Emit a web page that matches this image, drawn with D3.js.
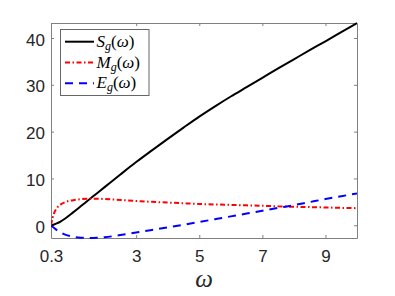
<!DOCTYPE html>
<html>
<head>
<meta charset="utf-8">
<script src="https://cdn.jsdelivr.net/npm/d3@7"></script>
<style>
  body { margin: 0; background: #fff; }
  .axis text { font-family: "Liberation Sans", Arial, sans-serif; font-size: 17px; fill: #262626; }
  .axis path, .axis line { stroke: #808080; }
</style>
</head>
<body>
<div id="chart"></div>
<script>
// frequency grid and the three curves
const omega = [0.3, 0.35, 0.4, 0.5, 0.6, 0.75, 1, 1.25, 1.5, 1.75, 2, 2.5, 3, 3.5, 4, 4.5, 5, 5.5, 6, 6.5, 7, 7.5, 8, 8.5, 9, 9.5, 10];
const sValues = [0, 0.07, 0.17, 0.45, 0.8, 1.45, 2.75, 4.1, 5.45, 6.8, 8.15, 10.85, 13.5, 16.0, 18.45, 20.85, 23.2, 25.4, 27.5, 29.5, 31.5, 33.5, 35.45, 37.4, 39.3, 41.25, 43.2];
const mValues = [0, 1.6, 2.6, 3.8, 4.4, 4.95, 5.35, 5.58, 5.68, 5.68, 5.6, 5.4, 5.2, 5.0, 4.85, 4.7, 4.55, 4.45, 4.35, 4.25, 4.15, 4.05, 3.95, 3.88, 3.8, 3.72, 3.65];
const eValues = [0, -0.3, -0.6, -1.1, -1.5, -2.0, -2.45, -2.65, -2.72, -2.68, -2.55, -2.1, -1.55, -1.0, -0.45, 0.12, 0.7, 1.3, 1.9, 2.5, 3.1, 3.7, 4.3, 4.95, 5.6, 6.2, 6.8];
const xTicks = [0.3, 3, 5, 7, 9];
const yTicks = [0, 10, 20, 30, 40];

const series = [
    {name: "S", values: sValues, color: "#000000", dash: null},
    {name: "M", values: mValues, color: "#ff0000", dash: "5,2.5,1.5,2.5"},
    {name: "E", values: eValues, color: "#0000ff", dash: "8,6"}
];

const width = 395, height = 296;
const margin = {top: 23, right: 38, bottom: 58, left: 51};

const svg = d3.select("#chart").append("svg")
    .attr("width", width)
    .attr("height", height);

const x = d3.scaleLinear()
    .domain([0.3, 10])
    .range([margin.left, width - margin.right]);

let allValues = sValues.concat(mValues, eValues);
const y = d3.scaleLinear()
    .domain(d3.extent(allValues))
    .range([height - margin.bottom, margin.top]);

// axes (ticks point inwards, mirrored on top/right like a boxed plot)
svg.append("g")
    .attr("class", "axis")
    .attr("transform", `translate(0, ${height - margin.bottom})`)
    .call(d3.axisBottom(x).tickValues(xTicks).tickFormat(d3.format("")).tickSizeInner(-3).tickSizeOuter(0).tickPadding(12));

svg.append("g")
    .attr("class", "axis")
    .attr("transform", `translate(${margin.left}, 0)`)
    .call(d3.axisLeft(y).tickValues(yTicks).tickSizeInner(-3).tickSizeOuter(0).tickPadding(6))
    .selectAll("text").attr("dy", "0.42em");

svg.append("g")
    .attr("class", "axis")
    .attr("transform", `translate(0, ${margin.top})`)
    .call(d3.axisTop(x).tickValues(xTicks).tickFormat("").tickSizeInner(-3).tickSizeOuter(0));

svg.append("g")
    .attr("class", "axis")
    .attr("transform", `translate(${width - margin.right}, 0)`)
    .call(d3.axisRight(y).tickValues(yTicks).tickFormat("").tickSizeInner(-3).tickSizeOuter(0));

// curves
let line = d3.line()
    .x((d, i) => x(omega[i]))
    .y(d => y(d))
    .curve(d3.curveMonotoneX);

svg.append("defs").append("clipPath").attr("id", "plotclip")
    .append("rect")
    .attr("x", margin.left).attr("y", margin.top - 2)
    .attr("width", width - margin.left - margin.right)
    .attr("height", height - margin.top - margin.bottom + 4);

svg.selectAll(".curve")
    .data(series)
    .enter().append("path")
    .attr("class", "curve")
    .attr("clip-path", "url(#plotclip)")
    .attr("fill", "none")
    .attr("stroke", d => d.color)
    .attr("stroke-width", 2)
    .attr("stroke-dasharray", d => d.dash)
    .attr("d", d => line(d.values));

// x label
svg.append("text")
    .attr("x", (margin.left + width - margin.right) / 2)
    .attr("y", 287)
    .attr("text-anchor", "middle")
    .attr("font-family", "Liberation Serif, serif")
    .attr("font-style", "italic")
    .attr("font-size", 25)
    .attr("fill", "#262626")
    .text("ω");

// legend
let legend = svg.append("g").attr("class", "legend");
legend.append("rect")
    .attr("x", 60.5).attr("y", 29.5)
    .attr("width", 88.5).attr("height", 66)
    .attr("fill", "#fff")
    .attr("stroke", "#666")
    .attr("stroke-width", 1);

series.forEach((s, i) => {
    let ly = 41.7 + i * 20.8;
    legend.append("line")
        .attr("x1", 65).attr("x2", 94)
        .attr("y1", ly).attr("y2", ly)
        .attr("stroke", s.color)
        .attr("stroke-width", 2)
        .attr("stroke-dasharray", s.dash);

    let t = legend.append("text")
        .attr("x", 96.5)
        .attr("y", ly + 5)
        .attr("font-family", "Liberation Serif, serif")
        .attr("font-size", 17)
        .attr("fill", "#000");
    t.append("tspan").attr("font-style", "italic").text(s.name);
    t.append("tspan").attr("font-style", "italic").attr("font-size", 12).attr("dy", 3).text("g");
    t.append("tspan").attr("dy", -3).text("(");
    t.append("tspan").attr("font-style", "italic").text("ω");
    t.append("tspan").text(")");
});
</script>
</body>
</html>
